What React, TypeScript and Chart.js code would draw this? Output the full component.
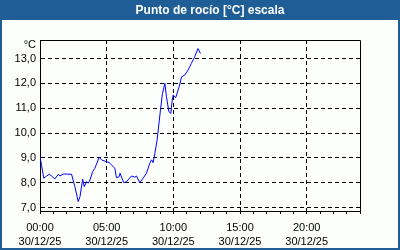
import React, { useEffect, useRef } from "react";
import { Chart, registerables } from "chart.js";
Chart.register(...registerables);

const TITLE = "Punto de rocío [°C] escala";
const UNIT = "°C";
const DATE_LABEL = "30/12/25";
const X_LABEL_HOURS = [0, 5, 10, 15, 20];
const Y_MIN = 6.86;
const Y_MAX = 13.745;

// minutes since 00:00 on 30/12/25
const minutes = [
  0, 7, 17, 30, 42, 52, 67, 82, 90, 105, 142, 157, 172, 180, 192, 199, 210, 217,
  225, 237, 247, 266, 277, 296, 311, 337, 344, 356, 360, 377, 389, 412, 427, 434,
  449, 467, 479, 494, 502, 509, 517, 527, 542, 551, 562, 569, 580, 589, 594, 599,
  611, 626, 637, 651, 666, 681, 696, 711, 722,
];
const dewPoint = [
  9.05, 8.7, 8.18, 8.27, 8.34, 8.27, 8.15, 8.34, 8.27, 8.35, 8.34, 7.84, 7.24, 7.44,
  8.14, 7.84, 8.04, 7.98, 8.11, 8.45, 8.58, 9.02, 8.92, 8.85, 8.81, 8.58, 8.2, 8.24,
  8.38, 8.0, 8.04, 8.27, 8.22, 8.27, 8.0, 8.22, 8.38, 8.78, 8.92, 8.81, 9.18, 9.72,
  10.92, 11.59, 12.0, 11.46, 10.86, 10.79, 11.26, 11.53, 11.43, 11.86, 12.26, 12.33,
  12.53, 12.8, 13.07, 13.4, 13.2,
];

const BLUE = "#1e5d96";
const BG = "#fcfffc";
const FONT = "'Liberation Sans', Arial, sans-serif";

export default function App() {
  const ref = useRef<HTMLCanvasElement>(null);

  useEffect(() => {
    document.body.style.margin = "0";
    const canvas = ref.current as HTMLCanvasElement;

    const decor = {
      id: "decor",
      afterLayout(chart: any) {
        const t = chart.titleBlock;
        if (t) {
          t.left = 20;
          t.right = chart.width;
        }
      },
      beforeDraw(chart: any) {
        const { ctx, width, height } = chart;
        ctx.save();
        ctx.fillStyle = BG;
        ctx.fillRect(0, 0, width, height);
        ctx.fillStyle = BLUE;
        ctx.fillRect(0, 0, width, 20);
        ctx.restore();
      },
      afterDraw(chart: any) {
        const { ctx, chartArea, width, height } = chart;
        ctx.save();
        ctx.strokeStyle = "#000";
        ctx.lineWidth = 1;
        const l = Math.round(chartArea.left) + 0.5;
        const r = Math.round(chartArea.right) + 0.5;
        const t = Math.round(chartArea.top) + 0.5;
        const b = Math.round(chartArea.bottom) + 0.5;
        ctx.beginPath();
        ctx.moveTo(l, t);
        ctx.lineTo(r, t);
        ctx.lineTo(r, b);
        ctx.stroke();
        ctx.strokeStyle = BLUE;
        ctx.lineWidth = 2;
        ctx.strokeRect(1, 1, width - 2, height - 2);
        ctx.fillStyle = "#000";
        ctx.font = `11px ${FONT}`;
        ctx.textAlign = "right";
        ctx.textBaseline = "middle";
        ctx.fillText(UNIT, chartArea.left - 4, 45);
        ctx.restore();
      },
    };

    const pad2 = (n: number) => String(n).padStart(2, "0");

    const chart = new Chart(canvas, {
      type: "line",
      data: {
        datasets: [
          {
            data: minutes.map((m, i) => ({ x: m / 60, y: dewPoint[i] })),
            borderColor: "#0000ff",
            borderWidth: 1,
            pointRadius: 0,
            tension: 0,
            fill: false,
          },
        ],
      },
      options: {
        responsive: false,
        animation: false,
        devicePixelRatio: 1,
        layout: { padding: { left: 0, right: 40, top: 0, bottom: 0 } },
        plugins: {
          legend: { display: false },
          tooltip: { enabled: false },
          title: {
            display: true,
            text: TITLE,
            color: "#ffffff",
            font: { family: FONT, size: 12, weight: "bold", lineHeight: 1.2 },
            padding: { top: 3, bottom: 22.6 },
          },
        },
        scales: {
          x: {
            type: "linear",
            min: 0,
            max: 24,
            afterFit: (s: any) => {
              s.height = 39;
            },
            border: { display: true, color: "#000", width: 1, dash: [4, 3] },
            grid: {
              color: (c: any) =>
                c.tick && X_LABEL_HOURS.includes(c.tick.value) ? "#000" : "rgba(0,0,0,0)",
              tickColor: "#000",
              tickLength: 3,
              lineWidth: 1,
            },
            ticks: {
              stepSize: 1,
              autoSkip: false,
              maxRotation: 0,
              minRotation: 0,
              padding: 6,
              color: "#000",
              font: { family: FONT, size: 11, lineHeight: 1.36 },
              callback: (v: any) =>
                X_LABEL_HOURS.includes(Number(v)) ? [`${pad2(Number(v))}:00`, DATE_LABEL] : "",
            },
          },
          y: {
            type: "linear",
            position: "left",
            min: Y_MIN,
            max: Y_MAX,
            afterFit: (s: any) => {
              s.width = 40;
            },
            border: { display: true, color: "#000", width: 1, dash: [4, 3] },
            grid: { color: "#000", drawTicks: false, lineWidth: 1 },
            ticks: {
              stepSize: 1,
              includeBounds: false,
              padding: 4,
              color: "#000",
              font: { family: FONT, size: 11 },
              callback: (v: any) => Number(v).toFixed(1).replace(".", ","),
            },
          },
        },
      },
      plugins: [decor],
    } as any);

    return () => chart.destroy();
  }, []);

  return (
    <div style={{ width: 400, height: 250 }}>
      <canvas ref={ref} width={400} height={250} style={{ display: "block" }} />
    </div>
  );
}
